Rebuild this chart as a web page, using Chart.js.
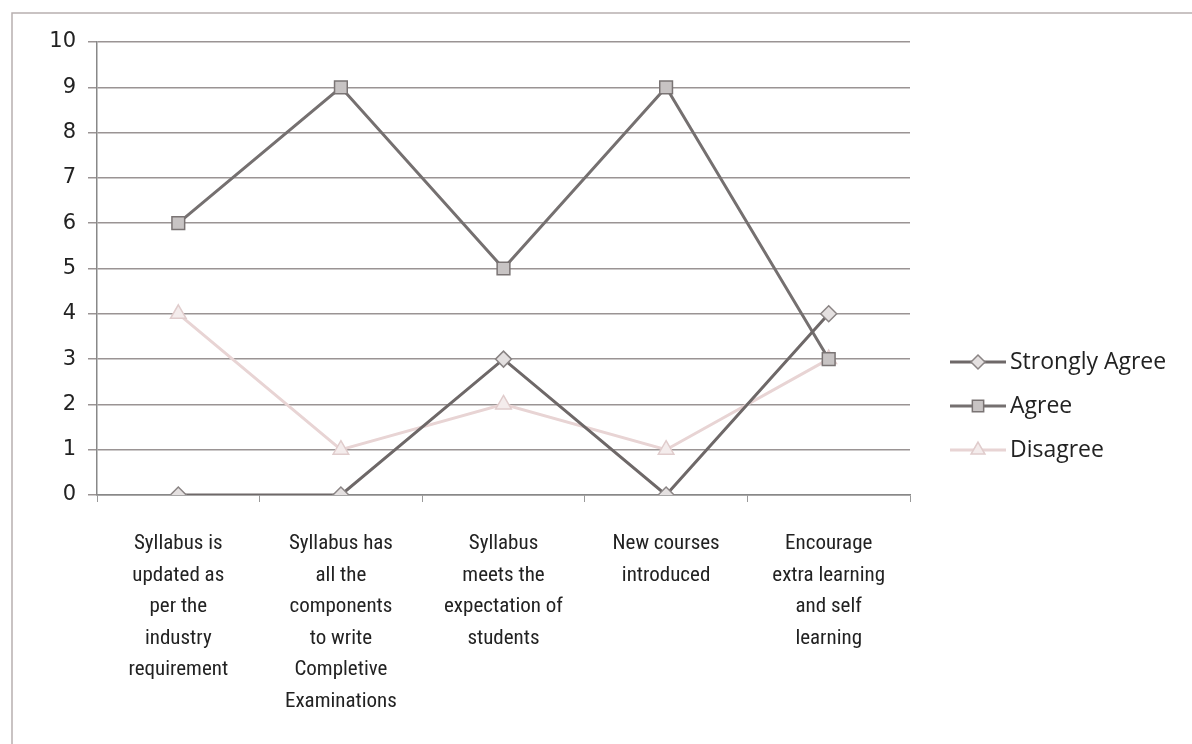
<!DOCTYPE html>
<html>
<head>
<meta charset="utf-8">
<script src="https://cdn.jsdelivr.net/npm/chart.js@4/dist/chart.umd.min.js"></script>
<style>
  html, body { margin: 0; padding: 0; background: #fff; }
  #wrap { width: 1192px; height: 744px; position: relative; }
</style>
</head>
<body>
<div id="wrap"><canvas id="chart" width="1192" height="744"></canvas></div>
<script>
// === Data ===
const categories = [
  ["Syllabus is", "updated as", "per the", "industry", "requirement"],
  ["Syllabus has", "all the", "components", "to write", "Completive", "Examinations"],
  ["Syllabus", "meets the", "expectation of", "students"],
  ["New courses", "introduced"],
  ["Encourage", "extra learning", "and self", "learning"]
];
const seriesNames = ["Strongly Agree", "Agree", "Disagree"];
const stronglyAgree = [0, 0, 3, 0, 4];
const agree = [6, 9, 5, 9, 3];
const disagree = [4, 1, 2, 1, 3];
const yTicks = [0, 1, 2, 3, 4, 5, 6, 7, 8, 9, 10];

// === Legend drawn like Excel (line + marker) ===
const excelLegend = {
  id: "excelLegend",
  afterDraw(chart) {
    const ctx = chart.ctx;
    const x0 = 950, y0 = 362, gap = 44;
    chart.data.datasets.forEach((ds, i) => {
      const y = y0 + i * gap;
      ctx.save();
      ctx.strokeStyle = ds.borderColor;
      ctx.lineWidth = ds.borderWidth;
      ctx.beginPath();
      ctx.moveTo(x0, y);
      ctx.lineTo(x0 + 56, y);
      ctx.stroke();
      ctx.fillStyle = ds.pointBackgroundColor;
      ctx.strokeStyle = ds.pointBorderColor;
      ctx.lineWidth = 1.5;
      Chart.helpers.drawPoint(ctx, {
        pointStyle: ds.pointStyle,
        radius: ds.pointRadius - 1,
        borderWidth: 1.5
      }, x0 + 28, y);
      ctx.fillStyle = "#222";
      ctx.font = "23px 'Open Sans', sans-serif";
      ctx.textBaseline = "middle";
      ctx.fillText(ds.label, x0 + 60, y);
      ctx.restore();
    });
  }
};

// === Outer frame ===
const frame = {
  id: "frame",
  beforeDraw(chart) {
    const ctx = chart.ctx;
    ctx.save();
    ctx.strokeStyle = "#b8b0b0";
    ctx.lineWidth = 1.5;
    ctx.beginPath();
    ctx.moveTo(12, 760);
    ctx.lineTo(12, 13);
    ctx.lineTo(1192, 13);
    ctx.stroke();
    ctx.restore();
  }
};

new Chart(document.getElementById("chart"), {
  type: "line",
  data: {
    labels: categories,
    datasets: [
      {
        label: seriesNames[0],
        data: stronglyAgree,
        borderColor: "#6e6868",
        borderWidth: 3,
        pointStyle: "rectRot",
        pointRadius: 8,
        pointBackgroundColor: "#e4e0e0",
        pointBorderColor: "#8a8484",
        pointBorderWidth: 1.5
      },
      {
        label: seriesNames[1],
        data: agree,
        borderColor: "#757070",
        borderWidth: 3,
        pointStyle: "rect",
        pointRadius: 9,
        pointBackgroundColor: "#c8c4c4",
        pointBorderColor: "#7a7474",
        pointBorderWidth: 1.5
      },
      {
        label: seriesNames[2],
        data: disagree,
        borderColor: "#e8d4d4",
        borderWidth: 3,
        pointStyle: "triangle",
        pointRadius: 9,
        pointBackgroundColor: "#f4ecec",
        pointBorderColor: "#e0cccc",
        pointBorderWidth: 1.5
      }
    ]
  },
  options: {
    responsive: false,
    animation: false,
    layout: { padding: { top: 42, right: 282, left: 20, bottom: 0 } },
    plugins: {
      legend: { display: false },
      tooltip: { enabled: false }
    },
    scales: {
      x: {
        offset: true,
        grid: {
          offset: true,
          drawOnChartArea: false,
          tickLength: 7,
          color: "#999"
        },
        border: { color: "#888", width: 1.5 },
        ticks: {
          maxRotation: 0,
          autoSkip: false,
          padding: 26,
          color: "#222",
          font: { family: "'Liberation Sans Narrow', 'Roboto Condensed', 'Liberation Sans', sans-serif", size: 21, lineHeight: 1.5 }
        },
        afterFit(scale) { scale.height = 744 - 495; }
      },
      y: {
        min: 0,
        max: 10,
        afterBuildTicks(scale) { scale.ticks = yTicks.map(v => ({ value: v })); },
        grid: { color: "#9a9494", lineWidth: 1.5, tickLength: 9 },
        border: { color: "#888", width: 1.5 },
        ticks: {
          padding: 12,
          color: "#222",
          font: { family: "'DejaVu Sans', sans-serif", size: 21 }
        },
        afterFit(scale) { scale.width = 97 - 20; }
      }
    }
  },
  plugins: [frame, excelLegend]
});
</script>
</body>
</html>
